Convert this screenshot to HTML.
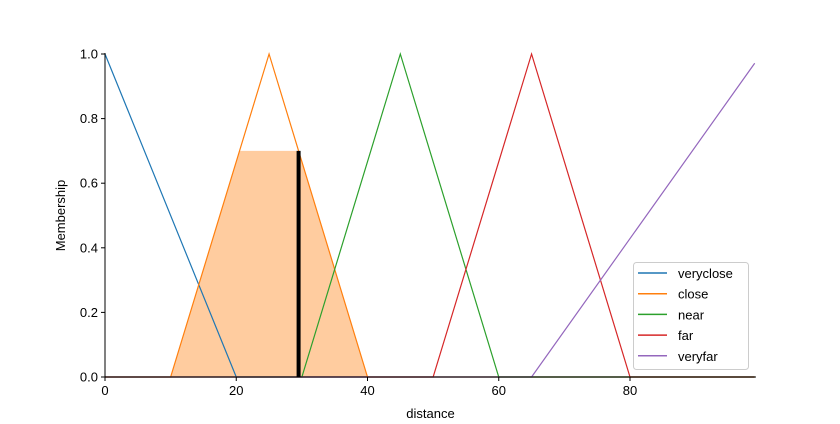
<!DOCTYPE html>
<html><head><meta charset="utf-8"><style>
body{margin:0;background:#fff;}
svg{display:block;font-family:"Liberation Sans","DejaVu Sans",sans-serif;}
</style></head><body>
<svg id="chart" width="840" height="424" viewBox="0 0 840 424"></svg>
<script>
const xs = [0, 10, 20, 25, 30, 40, 45, 50, 60, 65, 80, 99];
const setNames = ["veryclose","close","near","far","veryfar"];
const setParams = [[0,0,20],[10,25,40],[30,45,60],[50,65,80],[65,100,100]];
const colors = ["#1f77b4","#ff7f0e","#2ca02c","#d62728","#9467bd"];
const xTicks = [0,20,40,60,80];
const yTicks = [0.0,0.2,0.4,0.6,0.8,1.0];
const clipLevel = 0.7;
const clipSet = 1;
const inputValue = 29.5;
const xMin=0,xMax=99.2;
const L=105,R=756,T=54,B=377;
const sx=v=>L+(v-xMin)/(xMax-xMin)*(R-L);
const sy=v=>B-v*(B-T);
const NS="http://www.w3.org/2000/svg";
const svg=document.getElementById('chart');
function mk(tag,attrs,parent){const e=document.createElementNS(NS,tag);for(const k in attrs)e.setAttribute(k,attrs[k]);(parent||svg).appendChild(e);return e;}
function trimf(x,p){const[a,b,c]=p;if(x<=a)return a===b&&x===a?1:0;if(x>=c)return b===c&&x===c?1:0;if(x<=b)return b===a?1:(x-a)/(b-a);return c===b?1:(c-x)/(c-b);}
// grid x points: breakpoints within universe
const pts=[0,1,10,20,25,30,40,45,50,60,65,80,99];
// fill
const fp=setParams[clipSet];
let fd=`M${sx(fp[0])},${sy(0)}`;
for(let x=fp[0];x<=fp[2];x+=0.25){fd+=` L${sx(x)},${sy(Math.min(clipLevel,trimf(x,fp)))}`;}
fd+=` L${sx(fp[2])},${sy(0)} Z`;
const fill=mk('path',{d:fd,fill:'#ff7f0e','fill-opacity':0.4,stroke:'none'});


// lines
setNames.forEach((n,i)=>{
  const p=setParams[i];
  const xsP=[0,p[0],p[1],p[2],99].filter(v=>v>=0&&v<=99).sort((a,b)=>a-b);
  const d=xsP.map((x,j)=>(j?'L':'M')+sx(x)+','+sy(trimf(x,p))).join(' ');
  const e=mk('path',{d:d,fill:'none',stroke:colors[i],'stroke-width':1.2});
  
  
});
const il=mk('line',{x1:sx(inputValue),x2:sx(inputValue),y1:sy(0),y2:sy(clipLevel),stroke:'#000','stroke-width':4});


// axes
const ax=mk('g',{});


mk('line',{x1:L,x2:L,y1:T-1,y2:B,stroke:'#000','stroke-width':1},ax);
mk('line',{x1:L,x2:R,y1:B,y2:B,stroke:'#000','stroke-width':1},ax);
xTicks.forEach(t=>{
  mk('line',{x1:sx(t),x2:sx(t),y1:B,y2:B+4,stroke:'#000'},ax);
  const tx=mk('text',{x:sx(t),y:B+18,'font-size':13,'text-anchor':'middle'},ax);tx.textContent=t;
  
  
});
yTicks.forEach(t=>{
  mk('line',{x1:L-4,x2:L,y1:sy(t),y2:sy(t),stroke:'#000'},ax);
  const tx=mk('text',{x:L-7,y:sy(t)+4.5,'font-size':13,'text-anchor':'end'},ax);tx.textContent=t.toFixed(1);
  
  
});
const xt=mk('text',{x:(L+R)/2,y:418,'font-size':13,'text-anchor':'middle'});xt.textContent='distance';


const yt=mk('text',{x:0,y:0,'font-size':13,'text-anchor':'middle',transform:`translate(65,${(T+B)/2}) rotate(-90)`});yt.textContent='Membership';


// legend
const lg=mk('g',{});


mk('rect',{x:633.5,y:262.5,width:115,height:107,rx:3,fill:'#fff','fill-opacity':0.8,stroke:'#ccc'},lg);
setNames.forEach((n,i)=>{
  const y=273+i*20.7;
  const g=mk('g',{},lg);
  
  
  mk('line',{x1:638,x2:667,y1:y,y2:y,stroke:colors[i],'stroke-width':1.5},g);
  const t=mk('text',{x:678,y:y+5,'font-size':13},g);t.textContent=n;
});
</script>
</body></html>
